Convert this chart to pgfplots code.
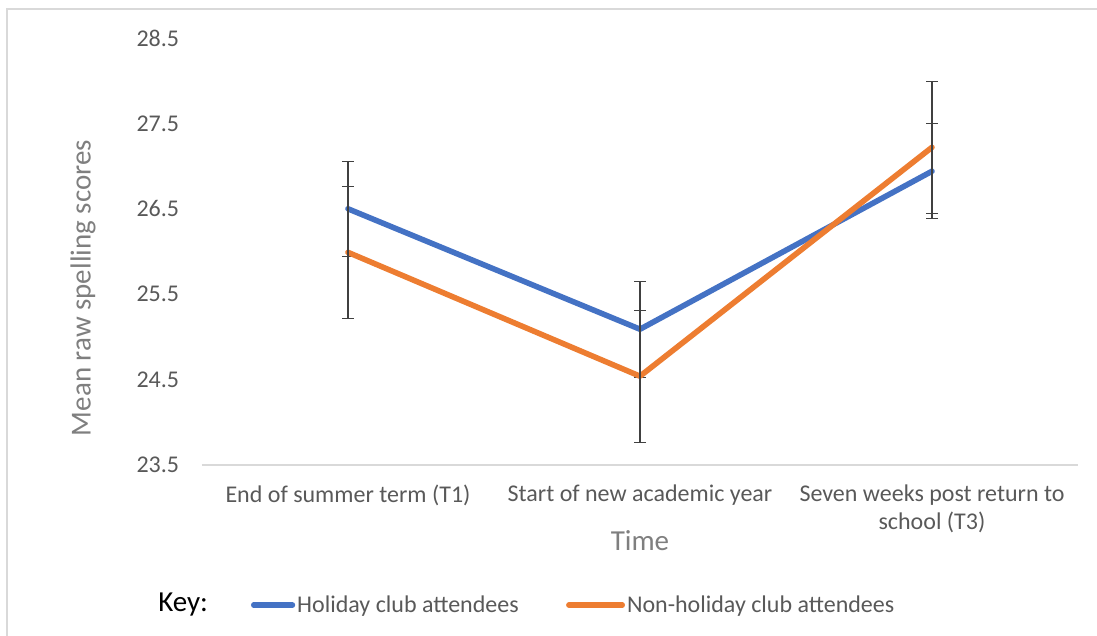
\documentclass[border=0pt]{standalone}
\usepackage{fontspec}
\setmainfont{Carlito}
\usepackage{pgfplots}
\pgfplotsset{compat=1.18}
\definecolor{cblue}{HTML}{4472C4}
\definecolor{corange}{HTML}{ED7D31}
\definecolor{ctext}{HTML}{595959}
\definecolor{clabel}{HTML}{7F7F7F}
\definecolor{cgrid}{HTML}{D9D9D9}
\definecolor{cerr}{HTML}{404040}
\pgfplotsset{
  legA/.style={legend image code/.code={\draw[##1] (0pt,0pt) -- (29pt,0pt);}},
  legB/.style={legend image code/.code={\draw[##1] (0pt,0pt) -- (40pt,0pt);}},
}
\begin{document}
\begin{tikzpicture}
\useasboundingbox (0,0) rectangle (822.75pt,-477pt);
\draw[cgrid, line width=1.1pt] (5.25pt,-478pt) -- (5.25pt,-6.75pt) -- (824pt,-6.75pt);
\begin{axis}[
  at={(151.5pt,-348.75pt)}, anchor=south west,
  scale only axis, width=657pt, height=320.25pt,
  xmin=-0.5, xmax=2.5, ymin=23.5, ymax=28.5,
  ytick={23.5,24.5,25.5,26.5,27.5,28.5},
  xtick={0,1,2},
  xticklabels={End of summer term (T1), Start of new academic year, {Seven weeks post return to\\school (T3)}},
  axis lines*=left,
  y axis line style={draw=none},
  x axis line style={cgrid, line width=1.1pt},
  major tick style={draw=none},
  /pgf/number format/assume math mode=true,
  /pgf/number format/fixed, /pgf/number format/fixed zerofill, /pgf/number format/precision=1,
  tick label style={font=\fontsize{18pt}{21pt}\selectfont, text=ctext},
  yticklabel style={anchor=east, inner sep=0pt, xshift=-17pt},
  xticklabel style={anchor=north, align=center, inner sep=0pt, yshift=-15pt},
  xlabel={Time}, ylabel={Mean raw spelling scores},
  label style={font=\fontsize{21.75pt}{24pt}\selectfont, text=clabel},
  xlabel style={at={(axis description cs:0.5,-0.178)}, anchor=center},
  ylabel style={at={(axis description cs:-0.1358,0.4145)}, anchor=center},
  clip=false,
  legend columns=2,
  legend style={draw=none, fill=none, at={(axis description cs:0.0559,-0.328)}, anchor=west,
    inner sep=0pt, outer sep=0pt, font=\fontsize{18pt}{21pt}\selectfont, text=ctext,
    /tikz/every even column/.append style={column sep=34pt},
    nodes={inner sep=1.5pt}},
]
\addplot[cblue, line width=4.2pt, line join=round, line cap=round, legA,
  error bars/.cd, y dir=both, y explicit,
  error bar style={cerr, line width=0.9pt, line cap=butt},
  error mark options={cerr, line width=0.9pt, mark size=4.5pt, rotate=90}]
  coordinates {(0,26.50) +- (0,0.556) (1,25.09) +- (0,0.562) (2,26.94) +- (0,0.556)};
\addlegendentry{Holiday club attendees}
\addplot[corange, line width=4.2pt, line join=round, line cap=round, legB,
  error bars/.cd, y dir=both, y explicit,
  error bar style={cerr, line width=0.9pt, line cap=butt},
  error mark options={cerr, line width=0.9pt, mark size=4.5pt, rotate=90}]
  coordinates {(0,25.99) +- (0,0.773) (1,24.54) +- (0,0.773) (2,27.22) +- (0,0.773)};
\addlegendentry{Non-holiday club attendees}
\end{axis}
\node[anchor=west, inner sep=0pt, font=\fontsize{21.75pt}{24pt}\selectfont] at (118.5pt,-453.75pt) {Key:};
\end{tikzpicture}
\end{document}
